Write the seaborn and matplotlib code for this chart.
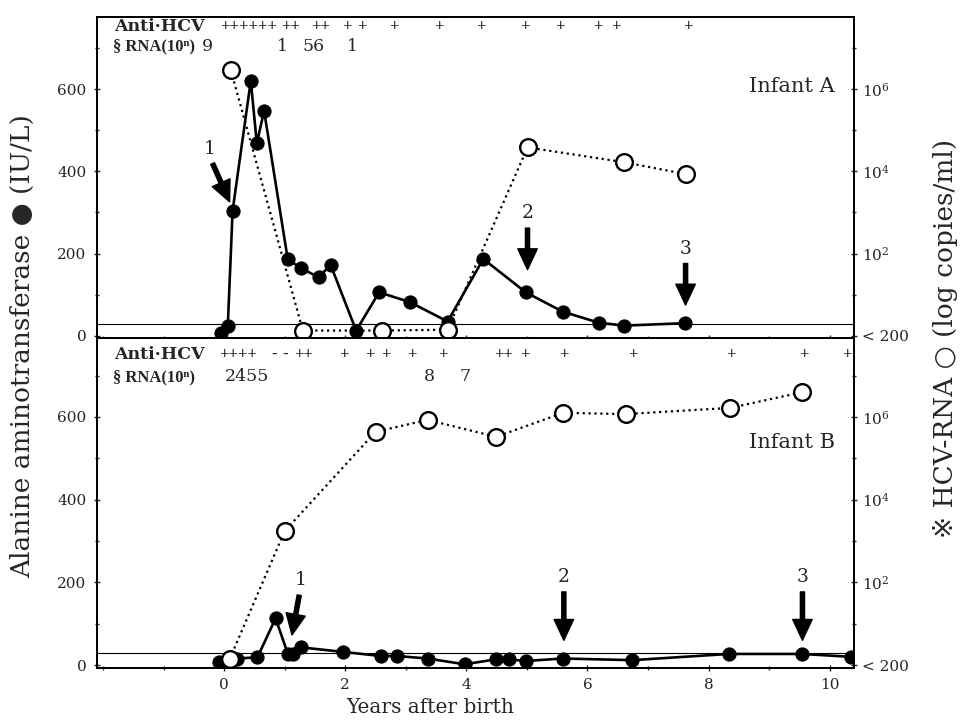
import matplotlib
matplotlib.use('Agg')
import matplotlib.pyplot as plt
import seaborn as sns

# Infant A: ALT (IU/L) and HCV-RNA (log10 copies/ml, 0 = "< 200")
a_alt_years = [-0.05, 0.06, 0.14, 0.44, 0.54, 0.66, 1.05, 1.27, 1.56, 1.76,
               2.18, 2.56, 3.07, 3.69, 4.28, 4.98, 5.59, 6.19, 6.61, 7.61]
a_alt = [7, 23, 304, 620, 468, 547, 187, 164, 143, 172,
         13, 106, 82, 35, 187, 106, 59, 32, 25, 31]
a_rna_years = [0.11, 1.30, 2.60, 3.69, 5.01, 6.61, 7.63]
a_rna = [6.46, 0.13, 0.13, 0.15, 4.58, 4.22, 3.93]

# Infant B
b_alt_years = [-0.08, 0.22, 0.55, 0.85, 1.05, 1.13, 1.27, 1.96, 2.59, 2.86,
               3.36, 3.97, 4.49, 4.71, 4.98, 5.59, 6.74, 8.33, 9.55, 10.35]
b_alt = [8, 16, 19, 113, 28, 27, 43, 32, 22, 22,
         16, 2, 14, 14, 10, 16, 12, 27, 27, 20]
b_rna_years = [0.09, 1.00, 2.50, 3.36, 4.49, 5.60, 6.63, 8.36, 9.55]
b_rna = [0.14, 3.24, 5.64, 5.93, 5.52, 6.10, 6.07, 6.22, 6.60]

# Anti-HCV results and RNA titre exponents written above each panel
a_anti_marks = ['++++++', '++', '++', '+', '+', '+', '+', '+', '+', '+', '+', '+', '+']
a_anti_years = [0.40, 1.10, 1.59, 2.02, 2.28, 2.80, 3.55, 4.24, 4.96, 5.55, 6.18, 6.47, 7.65]
a_titre = ['9', '1', '56', '1']
a_titre_years = [-0.28, 0.96, 1.48, 2.12]

b_anti_marks = ['++++', '-', '-', '++', '+', '+', '+', '+', '+', '++', '+', '+', '+', '+', '+', '+']
b_anti_years = [0.23, 0.83, 1.01, 1.32, 1.98, 2.41, 2.67, 3.10, 3.62, 4.61, 4.96, 5.61, 6.75,
                8.36, 9.58, 10.29]
b_titre = ['2455', '8', '7']
b_titre_years = [0.37, 3.39, 3.98]

# Treatment arrows: label, tail (x, ALT), tip (x, ALT)
a_arrow_labels = ['1', '2', '3']
a_arrow_tail = [(-0.19, 419), (5.01, 262), (7.62, 176)]
a_arrow_tip = [(0.09, 326), (5.01, 161), (7.62, 75)]
b_arrow_labels = ['1', '2', '3']
b_arrow_tail = [(1.24, 169), (5.61, 177), (9.55, 177)]
b_arrow_tip = [(1.12, 73), (5.61, 60), (9.55, 60)]

ALT_LIMIT = 30

sns.set_style('ticks')
plt.rcParams['font.family'] = ['DejaVu Serif', 'DejaVu Sans']
plt.rcParams['mathtext.fontset'] = 'dejavuserif'

fig = plt.figure(figsize=(9.6, 7.2), dpi=100)
ax_a = fig.add_axes([0.101, 0.5306, 0.7885, 0.4458])
ax_b = fig.add_axes([0.101, 0.0722, 0.7885, 0.4584])


def style_spines(ax):
    for s in ax.spines.values():
        s.set_linewidth(1.3)
        s.set_color('black')


def draw_panel(ax, alt_x, alt_y, rna_x, rna_y, ylim, name,
               anti, anti_x, titre, titre_x, rows_y, arr_lab, arr_tail, arr_tip):
    ax.axhline(ALT_LIMIT, color='black', lw=0.8, zorder=1)
    sns.lineplot(x=alt_x, y=alt_y, ax=ax, color='black', lw=1.9, marker='o',
                 markersize=9.5, markerfacecolor='black', markeredgecolor='black',
                 estimator=None, sort=False, zorder=3)
    ax.set_xlim(-2.1, 10.4)
    ax.set_ylim(*ylim)
    ax.set_yticks([0, 200, 400, 600])
    ax.set_yticks([100, 300, 500, 700], minor=True)
    ax.set_xticks(range(0, 11, 2))
    ax.set_xticks(range(-2, 11), minor=True)
    ax.tick_params(axis='both', which='both', direction='inout', labelsize=11, width=1, pad=5)
    ax.tick_params(which='major', length=5)
    ax.tick_params(which='minor', length=3)
    style_spines(ax)

    # treatment arrows
    for lab, tail, tip in zip(arr_lab, arr_tail, arr_tip):
        ax.annotate('', xy=tip, xytext=tail,
                    arrowprops=dict(facecolor='black', edgecolor='black', width=3,
                                    headwidth=14, headlength=15, shrink=0), zorder=4)
        ax.text(tail[0] + 0.2 * (tail[0] - tip[0]), tail[1] + 14, lab,
                ha='center', va='bottom', fontsize=13.5)

    ax2 = ax.twinx()
    sns.lineplot(x=rna_x, y=rna_y, ax=ax2, color='black', lw=1.6, linestyle=':', marker='o',
                 markersize=12, markerfacecolor='white', markeredgecolor='black',
                 markeredgewidth=1.7, estimator=None, sort=False)
    ax2.set_xlim(-2.1, 10.4)
    ax2.set_ylim(ylim[0] / 100, ylim[1] / 100)
    ax2.set_yticks([0, 2, 4, 6])
    ax2.set_yticklabels(['< 200', '$10^{2}$', '$10^{4}$', '$10^{6}$'])
    ax2.set_yticks([1, 3, 5, 7], minor=True)
    ax2.tick_params(axis='y', which='both', direction='inout', labelsize=11, width=1)
    ax2.tick_params(which='major', length=5)
    ax2.tick_params(which='minor', length=3)
    style_spines(ax2)

    tr = ax.get_xaxis_transform()
    ax2.text(-1.81, rows_y[0], 'Anti·HCV', transform=tr, ha='left', va='center',
             fontsize=12.5, fontweight='bold')
    ax2.text(-1.84, rows_y[1], '§ RNA(10ⁿ)', transform=tr, ha='left', va='center',
             fontsize=12, fontweight='bold', family=['Liberation Serif', 'DejaVu Serif'])
    for m, x in zip(anti, anti_x):
        ax2.text(x, rows_y[0], m, transform=tr, ha='center', va='center', fontsize=12,
                 fontweight='bold', family=['Liberation Serif', 'DejaVu Serif'])
    for t, x in zip(titre, titre_x):
        ax2.text(x, rows_y[1], t, transform=tr, ha='center', va='center', fontsize=12.5)
    ax2.text(10.08, rows_y[2], name, transform=tr, ha='right', va='center', fontsize=15)
    return ax2


draw_panel(ax_a, a_alt_years, a_alt, a_rna_years, a_rna, (-5, 775), 'Infant A',
           a_anti_marks, a_anti_years, a_titre, a_titre_years, (0.969, 0.907, 0.782),
           a_arrow_labels, a_arrow_tail, a_arrow_tip)
draw_panel(ax_b, b_alt_years, b_alt, b_rna_years, b_rna, (-7, 791), 'Infant B',
           b_anti_marks, b_anti_years, b_titre, b_titre_years, (0.949, 0.882, 0.682),
           b_arrow_labels, b_arrow_tail, b_arrow_tip)

ax_a.tick_params(axis='x', labelbottom=False)
ax_a.set_xlabel('')
ax_b.set_xlabel('Years after birth', fontsize=14.5)
ax_b.xaxis.set_label_coords(0.44, -0.121)
ax_b.xaxis.label.set_va('center')

fig.text(0.023, 0.52, 'Alanine aminotransferase ● (IU/L)', rotation=90,
         ha='center', va='center', fontsize=19)
fig.text(0.985, 0.53, '※ HCV-RNA ○ (log copies/ml)', rotation=90,
         ha='center', va='center', fontsize=19)

fig.savefig('out.png', dpi=100)
